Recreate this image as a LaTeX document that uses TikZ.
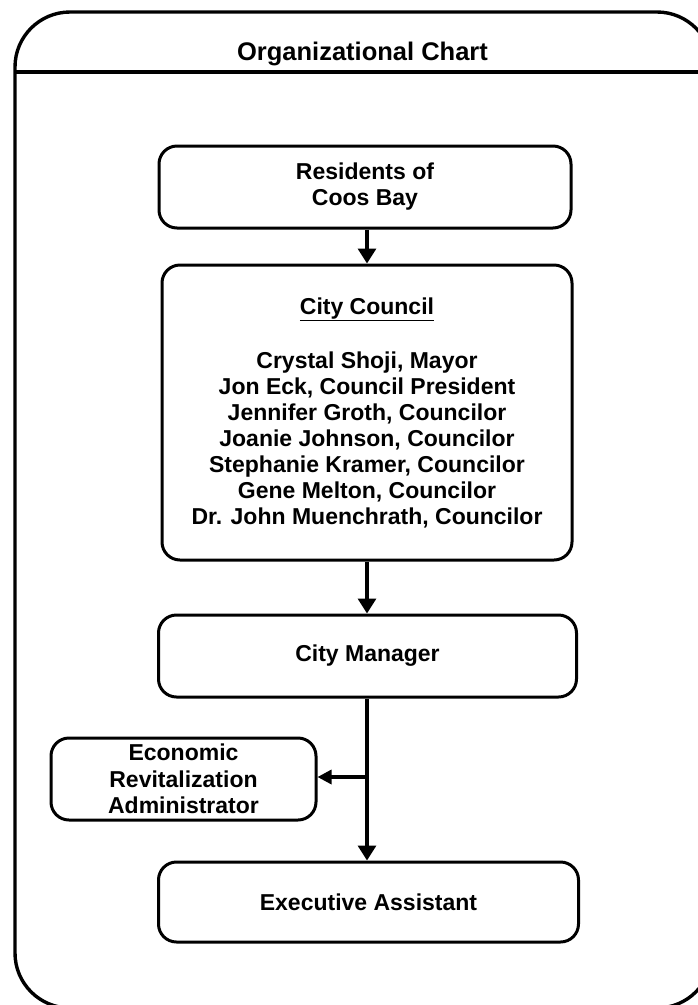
\documentclass[tikz,border=0pt]{standalone}
\usepackage{fontspec}
\setmainfont{Liberation Sans}
\usetikzlibrary{arrows.meta}
\begin{document}
\begin{tikzpicture}[x=1pt,y=-1pt,
  frame/.style={line width=3.4pt},
  box/.style={draw, line width=3pt, rounded corners=18pt, align=center, inner sep=0pt,
    font=\bfseries\fontsize{23}{26}\selectfont},
  conn/.style={line width=3.2pt, -{Triangle[width=18pt,length=15pt]}},
  sideconn/.style={line width=3.2pt, -{Triangle[width=14pt,length=14pt]}}
]
\useasboundingbox (0,0) rectangle (698,1005);
% outer frame
\draw[frame, rounded corners=55pt] (15,12) rectangle (712,1008);
\draw[frame] (15,72) -- (712,72);
\node[anchor=base, font=\bfseries\fontsize{25.5}{28}\selectfont] (title) at (362.5,60) {Organizational Chart};
% boxes
\node[box, minimum width=412pt, minimum height=82pt] (res) at (365,187) {Residents of\\Coos Bay};
\node[box, minimum width=410pt, minimum height=295pt] (council) at (367,412.5)
  {\underline{City Council}\\[28pt]Crystal Shoji, Mayor\\Jon Eck, Council President\\Jennifer Groth, Councilor\\Joanie Johnson, Councilor\\Stephanie Kramer, Councilor\\Gene Melton, Councilor\\Dr. John Muenchrath, Councilor};
\node[box, minimum width=418pt, minimum height=82pt] (cm) at (367.5,656) {City Manager};
\node[box, minimum width=265pt, minimum height=82pt, font=\bfseries\fontsize{23}{26.5}\selectfont] (econ) at (183.5,779) {Economic\\Revitalization\\Administrator};
\node[box, minimum width=420pt, minimum height=80pt] (exec) at (368.5,902) {Executive Assistant};
% connectors
\draw[conn] (res.south -| 367,0) -- (council.north -| 367,0);
\draw[conn] (council.south -| 367,0) -- (cm.north -| 367,0);
\draw[conn] (cm.south -| 367,0) -- (exec.north -| 367,0);
\coordinate (br) at (367,777);
\draw[sideconn] (br) -- (br -| econ.east);
\end{tikzpicture}
\end{document}
